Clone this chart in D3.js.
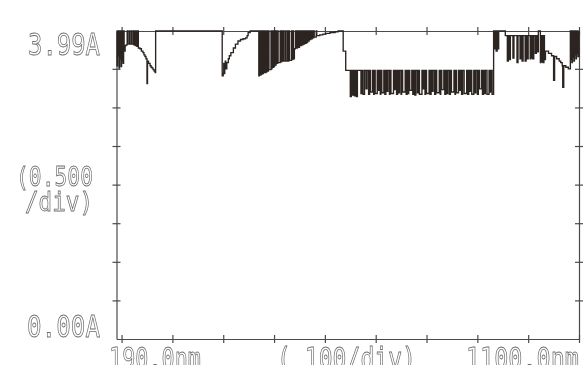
<!DOCTYPE html>
<html>
<head>
<meta charset="utf-8">
<script src="https://cdn.jsdelivr.net/npm/d3@7"></script>
<style>
  html, body { margin: 0; padding: 0; background: #fff; }
  svg { display: block; }
  .lbl { font-family: "DejaVu Sans Mono", monospace; fill: #fff; stroke: #6e6e6e; stroke-width: 0.85; }
</style>
</head>
<body>
<div id="chart"></div>
<script>
const W = 583, H = 365

// wavelength (nm), absorbance (A), left to right
const uvEdge = [
  [190, 3.99], [191, 3.54], [192, 3.99], [193, 3.67], [194, 3.99], [195, 3.51], [196, 3.99], [197, 3.63],
  [198, 3.99], [199, 3.53], [200, 3.99], [201, 3.60], [202, 3.99], [203, 3.57], [204, 3.99], [205, 3.73],
  [207, 3.80], [209, 3.81], [211, 3.99], [212, 3.82], [215, 3.99], [216, 3.82], [219, 3.99], [220, 3.82],
  [223, 3.99], [224, 3.81], [226, 3.99], [227, 3.80], [229, 3.99], [230, 3.79], [232, 3.99], [233, 3.77],
  [236, 3.76], [239, 3.73], [242, 3.71], [244, 3.68], [246, 3.66], [248, 3.63], [250, 3.31], [251, 3.60],
  [253, 3.57], [256, 3.54], [258, 3.52], [260, 3.51], [262, 3.49], [264, 3.47], [266, 3.45], [267, 3.99]
]

const shoulder = [
  [398, 3.41], [400, 3.44], [401, 3.57], [402, 3.44], [403, 3.50], [404, 3.60], [405, 3.50], [407, 3.58],
  [410, 3.63], [412, 3.67], [415, 3.71], [418, 3.71], [420, 3.77], [424, 3.82], [429, 3.86], [434, 3.88],
  [439, 3.89], [444, 3.90], [447, 3.93], [449, 3.97], [453, 3.99]
]

const denseBand = [
  [469, 3.99], [470, 3.41], [471, 3.99], [472, 3.42], [474, 3.99], [475, 3.43], [476, 3.99], [477, 3.44],
  [479, 3.99], [480, 3.45], [481, 3.99], [482, 3.45], [484, 3.99], [485, 3.46], [486, 3.99], [487, 3.47],
  [489, 3.99], [490, 3.49], [494, 3.99], [495, 3.50], [496, 3.99], [497, 3.52], [499, 3.99], [500, 3.53],
  [501, 3.99], [502, 3.55], [504, 3.99], [505, 3.57], [507, 3.99], [508, 3.58], [512, 3.99], [513, 3.59],
  [515, 3.99], [516, 3.60], [518, 3.99], [519, 3.60], [522, 3.99], [523, 3.60], [526, 3.99], [527, 3.60],
  [529, 3.99], [530, 3.61], [534, 3.99], [535, 3.62], [537, 3.99], [538, 3.63]
]

const slope = [
  [540, 3.76], [542, 3.99], [544, 3.77], [546, 3.99], [548, 3.78], [550, 3.99], [552, 3.80], [554, 3.99],
  [555, 3.81], [557, 3.99], [558, 3.82], [560, 3.99], [561, 3.83], [563, 3.99], [564, 3.84], [566, 3.99],
  [567, 3.86], [569, 3.99], [570, 3.88], [572, 3.99], [573, 3.89], [575, 3.99], [576, 3.90], [578, 3.99],
  [579, 3.91], [583, 3.99], [584, 3.93], [590, 3.94], [596, 3.95], [602, 3.96], [610, 3.97], [620, 3.98],
  [626, 3.99]
]

const plateau = [
  [636, 3.73], [641, 3.48],
  [650, 3.14], [652, 3.48], [654, 3.16], [656, 3.48], [658, 3.15], [660, 3.48], [662, 3.14], [664, 3.48],
  [671, 3.18], [673, 3.48], [675, 3.17], [678, 3.48], [681, 3.24], [683, 3.48], [686, 3.17], [688, 3.48],
  [690, 3.20], [694, 3.48], [696, 3.17], [697, 3.48], [699, 3.18], [703, 3.48], [705, 3.22], [707, 3.48],
  [709, 3.17], [710, 3.48], [712, 3.19], [716, 3.48], [718, 3.17], [720, 3.48], [722, 3.21], [724, 3.48],
  [727, 3.17], [728, 3.48], [730, 3.18], [735, 3.48], [737, 3.23], [739, 3.48], [741, 3.17], [743, 3.48],
  [745, 3.19], [747, 3.48], [750, 3.17], [751, 3.48], [753, 3.20], [758, 3.48], [760, 3.17], [762, 3.48],
  [764, 3.18], [765, 3.48], [767, 3.22], [771, 3.48], [773, 3.17], [775, 3.48], [777, 3.16], [779, 3.48],
  [782, 3.19], [784, 3.48], [786, 3.17], [791, 3.48], [793, 3.24], [795, 3.48], [797, 3.17], [798, 3.48],
  [800, 3.18], [805, 3.48], [807, 3.17], [809, 3.48], [811, 3.21], [813, 3.48], [816, 3.17], [818, 3.48],
  [820, 3.19], [825, 3.48], [827, 3.17], [828, 3.48], [830, 3.23], [834, 3.48], [836, 3.17], [838, 3.48],
  [840, 3.18], [842, 3.48], [845, 3.17], [847, 3.48], [849, 3.20], [854, 3.48], [856, 3.17], [857, 3.48],
  [859, 3.19], [863, 3.48], [865, 3.22], [867, 3.48], [869, 3.17], [871, 3.48], [874, 3.18], [879, 3.48],
  [881, 3.17], [883, 3.48], [885, 3.21], [887, 3.48], [889, 3.17], [893, 3.48], [895, 3.19], [897, 3.48],
  [900, 3.17], [902, 3.48], [904, 3.24], [908, 3.48], [910, 3.17], [912, 3.48], [914, 3.18], [916, 3.48],
  [919, 3.17], [923, 3.48], [925, 3.20], [927, 3.48], [929, 3.17], [932, 3.99]
]

const nirTail = [
  [934, 3.76], [936, 3.99], [937, 3.73], [939, 3.99], [940, 3.76], [942, 3.99],
  [955, 3.93], [959, 3.60], [961, 3.93], [963, 3.62], [965, 3.93], [970, 3.64], [972, 3.93], [978, 3.58],
  [980, 3.93], [984, 3.63], [986, 3.93], [988, 3.60], [990, 3.93], [994, 3.60], [996, 3.93], [998, 3.63],
  [1000, 3.93], [1004, 3.63], [1005, 3.93], [1006, 3.64], [1008, 3.93], [1009, 3.63], [1011, 3.93], [1014, 3.70],
  [1016, 3.93], [1018, 3.72], [1020, 3.99], [1024, 3.58], [1025, 3.93], [1026, 3.59], [1028, 3.93], [1029, 3.58],
  [1031, 3.93], [1032, 3.62], [1034, 3.73], [1040, 3.70], [1046, 3.67], [1050, 3.35], [1052, 3.66], [1056, 3.63],
  [1061, 3.60], [1064, 3.58], [1067, 3.54], [1068, 3.26], [1070, 3.54], [1074, 3.52], [1079, 3.50], [1083, 3.99],
  [1084, 3.62], [1085, 3.99], [1086, 3.58], [1087, 3.99], [1088, 3.65], [1089, 3.99], [1090, 3.60], [1091, 3.99],
  [1092, 3.68], [1093, 3.99], [1094, 3.63], [1095, 3.99], [1096, 3.70], [1097, 3.99], [1098, 3.66], [1100, 3.99]
]

const xTicks = [200, 300, 400, 500, 600, 700, 800, 900, 1000, 1100]
const yTicks = [0.5, 1.0, 1.5, 2.0, 2.5, 3.0, 3.5]

const trace = [].concat(uvEdge, shoulder, denseBand, slope, plateau, nirTail)

const x = d3.scaleLinear().domain([190, 1100]).range([116.5, 579])
const y = d3.scaleLinear().domain([0, 3.99]).range([339, 31])

const svg = d3.select('#chart').append('svg')
  .attr('width', W)
  .attr('height', H)

// greyscale filter so the outlined labels lose their colour fringes
svg.append('defs')
  .append('filter')
  .attr('id', 'grey')
  .append('feColorMatrix')
  .attr('type', 'saturate')
  .attr('values', 0)

svg.append('rect').attr('width', W).attr('height', H).attr('fill', '#fff')

// frame with ticks that cross the line, on all four sides
const axes = [
  { gen: d3.axisBottom(x).tickValues(xTicks), at: `translate(0,${y(0)})`, dir: 'v' },
  { gen: d3.axisTop(x).tickValues(xTicks), at: `translate(0,${y(3.99)})`, dir: 'v' },
  { gen: d3.axisLeft(y).tickValues(yTicks), at: `translate(${x(190)},0)`, dir: 'h' },
  { gen: d3.axisRight(y).tickValues(yTicks), at: `translate(${x(1100)},0)`, dir: 'h' },
]

axes.forEach((a) => {
  const g = svg.append('g')
    .attr('transform', a.at)
    .call(a.gen.tickSizeOuter(0).tickFormat(''))
  g.select('.domain').attr('stroke', '#4a4a4a').attr('stroke-width', 1.2)
  if (a.dir === 'v') {
    g.selectAll('.tick line').attr('y1', -4).attr('y2', 4)
  } else {
    g.selectAll('.tick line').attr('x1', -4).attr('x2', 4)
  }
  g.selectAll('.tick line').attr('stroke', '#4a4a4a').attr('stroke-width', 1.2)
})

// the spectrum, drawn as a plotter staircase
const line = d3.line()
  .x((d) => x(d[0]))
  .y((d) => y(d[1]))
  .curve(d3.curveStepAfter)

svg.append('path')
  .datum(trace)
  .attr('d', line)
  .attr('fill', 'none')
  .attr('stroke', '#2b2421')
  .attr('stroke-width', 1.35)

const labels = [
  { t: '3.99A', x: 28, y: 55, len: 72, size: 30 },
  { t: '(0.500', x: 16, y: 186, len: 77, size: 27 },
  { t: '/div)', x: 25, y: 211, len: 68, size: 27 },
  { t: '0.00A', x: 27, y: 337, len: 73, size: 30 },
  { t: '190.0nm', x: 109, y: 369, len: 92, size: 30 },
  { t: '( 100/div)', x: 277, y: 369, len: 139, size: 30 },
  { t: '1100.0nm', x: 466, y: 369, len: 113, size: 30 },
]

svg.append('g')
  .attr('filter', 'url(#grey)')
  .selectAll('text')
  .data(labels)
  .enter()
  .append('text')
  .attr('class', 'lbl')
  .attr('x', (d) => d.x)
  .attr('y', (d) => d.y)
  .attr('font-size', (d) => d.size)
  .attr('textLength', (d) => d.len)
  .attr('lengthAdjust', 'spacingAndGlyphs')
  .text((d) => d.t)
</script>
</body>
</html>
